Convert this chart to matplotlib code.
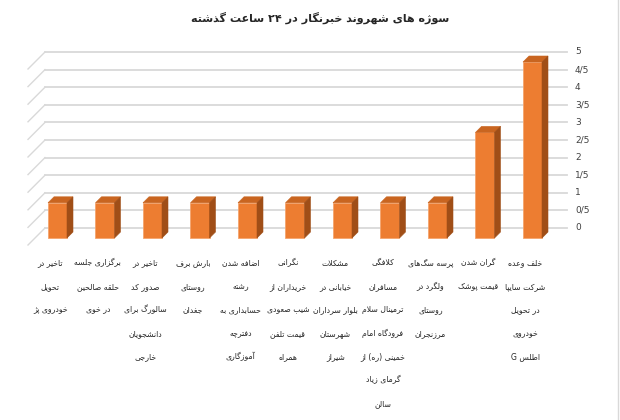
import matplotlib
matplotlib.use("Agg")
import matplotlib.pyplot as plt
from matplotlib.patches import Polygon

# ---- data (categories listed from right to left, as in the chart) ----
title = "سوژه های شهروند خبرنگار در ۲۴ ساعت گذشته"
labels = [
    ["خلف وعده", "شرکت سایپا", "در تحویل", "خودروی", "اطلس G"],
    ["گران شدن", "قیمت پوشک"],
    ["پرسه سگ\u200cهای", "ولگرد در", "روستای", "مرزنجران"],
    ["کلافگی", "مسافران", "ترمینال سلام", "فرودگاه امام", "خمینی (ره) از", "گرمای زیاد", "سالن"],
    ["مشکلات", "خیابانی در", "بلوار سرداران", "شهرستان", "شیراز"],
    ["نگرانی", "خریداران از", "شیب صعودی", "قیمت تلفن", "همراه"],
    ["اضافه شدن", "رشته", "حسابداری به", "دفترچه", "آموزگاری"],
    ["بارش برف", "روستای", "جغدان"],
    ["تاخیر در", "صدور کد", "سالورگ برای", "دانشجویان", "خارجی"],
    ["برگزاری جلسه", "حلقه صالحین", "در خوی"],
    ["تاخیر در", "تحویل", "خودروی پژ"],
]
values = [5, 3, 1, 1, 1, 1, 1, 1, 1, 1, 1]
yticks = [0, 0.5, 1, 1.5, 2, 2.5, 3, 3.5, 4, 4.5, 5]
ytick_labels = ["0", "0/5", "1", "1/5", "2", "2/5", "3", "3/5", "4", "4/5", "5"]

# ---- minimal Persian shaping (matplotlib has no complex text layout) ----
FORMS = {
    "ا": (0xFE8D, 0xFE8E), "آ": (0xFE81, 0xFE82), "د": (0xFEA9, 0xFEAA),
    "ذ": (0xFEAB, 0xFEAC), "ر": (0xFEAD, 0xFEAE), "ز": (0xFEAF, 0xFEB0),
    "ژ": (0xFB8A, 0xFB8B), "و": (0xFEED, 0xFEEE),
    "ب": (0xFE8F, 0xFE90, 0xFE91, 0xFE92), "پ": (0xFB56, 0xFB57, 0xFB58, 0xFB59),
    "ت": (0xFE95, 0xFE96, 0xFE97, 0xFE98), "ث": (0xFE99, 0xFE9A, 0xFE9B, 0xFE9C),
    "ج": (0xFE9D, 0xFE9E, 0xFE9F, 0xFEA0), "چ": (0xFB7A, 0xFB7B, 0xFB7C, 0xFB7D),
    "ح": (0xFEA1, 0xFEA2, 0xFEA3, 0xFEA4), "خ": (0xFEA5, 0xFEA6, 0xFEA7, 0xFEA8),
    "س": (0xFEB1, 0xFEB2, 0xFEB3, 0xFEB4), "ش": (0xFEB5, 0xFEB6, 0xFEB7, 0xFEB8),
    "ص": (0xFEB9, 0xFEBA, 0xFEBB, 0xFEBC), "ض": (0xFEBD, 0xFEBE, 0xFEBF, 0xFEC0),
    "ط": (0xFEC1, 0xFEC2, 0xFEC3, 0xFEC4), "ظ": (0xFEC5, 0xFEC6, 0xFEC7, 0xFEC8),
    "ع": (0xFEC9, 0xFECA, 0xFECB, 0xFECC), "غ": (0xFECD, 0xFECE, 0xFECF, 0xFED0),
    "ف": (0xFED1, 0xFED2, 0xFED3, 0xFED4), "ق": (0xFED5, 0xFED6, 0xFED7, 0xFED8),
    "ک": (0xFB8E, 0xFB8F, 0xFB90, 0xFB91), "گ": (0xFB92, 0xFB93, 0xFB94, 0xFB95),
    "ل": (0xFEDD, 0xFEDE, 0xFEDF, 0xFEE0), "م": (0xFEE1, 0xFEE2, 0xFEE3, 0xFEE4),
    "ن": (0xFEE5, 0xFEE6, 0xFEE7, 0xFEE8), "ه": (0xFEE9, 0xFEEA, 0xFEEB, 0xFEEC),
    "ی": (0xFBFC, 0xFBFD, 0xFBFE, 0xFBFF),
}
LAMALEF = {"ا": (0xFEFB, 0xFEFC), "آ": (0xFEF5, 0xFEF6)}


def shape(s):
    out = []
    i = 0
    n = len(s)
    while i < n:
        c = s[i]
        if c not in FORMS:
            if c != "\u200c":
                out.append(c)
            i += 1
            continue
        prev = s[i - 1] if i > 0 else ""
        joins_prev = prev in FORMS and len(FORMS[prev]) == 4
        if c == "ل" and i + 1 < n and s[i + 1] in LAMALEF:
            f = LAMALEF[s[i + 1]]
            out.append(chr(f[1] if joins_prev else f[0]))
            i += 2
            continue
        nxt = s[i + 1] if i + 1 < n else ""
        f = FORMS[c]
        joins_next = len(f) == 4 and nxt in FORMS
        if joins_prev and joins_next:
            g = f[3]
        elif joins_prev:
            g = f[1]
        elif joins_next:
            g = f[2]
        else:
            g = f[0]
        out.append(chr(g))
        i += 1
    # visual order: reverse, keep LTR runs, mirror brackets
    out = out[::-1]
    mirror = {"(": ")", ")": "("}
    out = [mirror.get(ch, ch) for ch in out]
    res, run = [], []
    for ch in out:
        if ch.isascii() and ch.isalnum() or ("\u06f0" <= ch <= "\u06f9"):
            run.append(ch)
        else:
            res.extend(run[::-1])
            run = []
            res.append(ch)
    res.extend(run[::-1])
    return "".join(res)


# ---- geometry (front plane of the bars is the data plane) ----
px_x, px_y = 47.5, 35.2          # pixels per category / per unit
back_dx, back_dy = 10 / px_x, 10 / px_y
side_dx, side_dy = 6 / px_x, 6 / px_y
bar_w = 19 / px_x
wall_left = -12.5 / px_x
wall_right = 509.5 / px_x

front = "#ED7D31"
top_c = "#C96520"
side_c = "#A04E17"
grid_c = "#D9D9D9"
fonts = ["DejaVu Sans Condensed", "DejaVu Sans"]

fig = plt.figure(figsize=(6.2, 4.2), dpi=100)
ax = fig.add_axes([0, 0, 1, 1])
ax.set_xlim(-57.5 / px_x, 562.5 / px_x)
ax.set_ylim(-182 / px_y, 238 / px_y)
ax.axis("off")

n = len(values)
xs = [n - 1 - i for i in range(n)]  # first category on the right

# back wall gridlines + floor/side diagonals
for t in yticks:
    yb = t + back_dy
    ax.plot([wall_left, wall_right], [yb, yb], color=grid_c, lw=1.3, zorder=1)
    ax.plot([wall_left, wall_left - 17 / px_x], [yb, yb - 17 / px_y],
            color=grid_c, lw=1.0, zorder=1)

for t, lab in zip(yticks, ytick_labels):
    ax.text(wall_right + 8 / px_x, t + back_dy, lab, ha="left", va="center",
            fontsize=6.5, color="#404040", family=fonts)

# bars: front face + top + side
ax.bar(xs, values, width=bar_w, color=front, edgecolor="#F4A46E", linewidth=0.6, zorder=3)
for x, v in zip(xs, values):
    l, r = x - bar_w / 2, x + bar_w / 2
    ax.add_patch(Polygon([(l, v), (r, v), (r + side_dx, v + side_dy), (l + side_dx, v + side_dy)],
                         closed=True, facecolor=top_c, edgecolor=top_c, lw=0.4, zorder=3))
    ax.add_patch(Polygon([(r, 0), (r + side_dx, side_dy), (r + side_dx, v + side_dy), (r, v)],
                         closed=True, facecolor=side_c, edgecolor=side_c, lw=0.4, zorder=3))

# category labels
for x, lines in zip(xs, labels):
    for k, line in enumerate(lines):
        ax.text(x - 0.15, -25 / px_y - k * 23.4 / px_y, shape(line), ha="center", va="center",
                fontsize=5.6, color="#262626", family=fonts)

ax.text(262.5 / px_x, 220 / px_y, shape(title), ha="center", va="center",
        fontsize=8, fontweight="bold", color="#262626", family=fonts)

# right border of the chart frame
ax.plot([560.5 / px_x, 560.5 / px_x], [-182 / px_y, 238 / px_y], color="#D9D9D9", lw=1)

fig.savefig("out.png", dpi=100)
